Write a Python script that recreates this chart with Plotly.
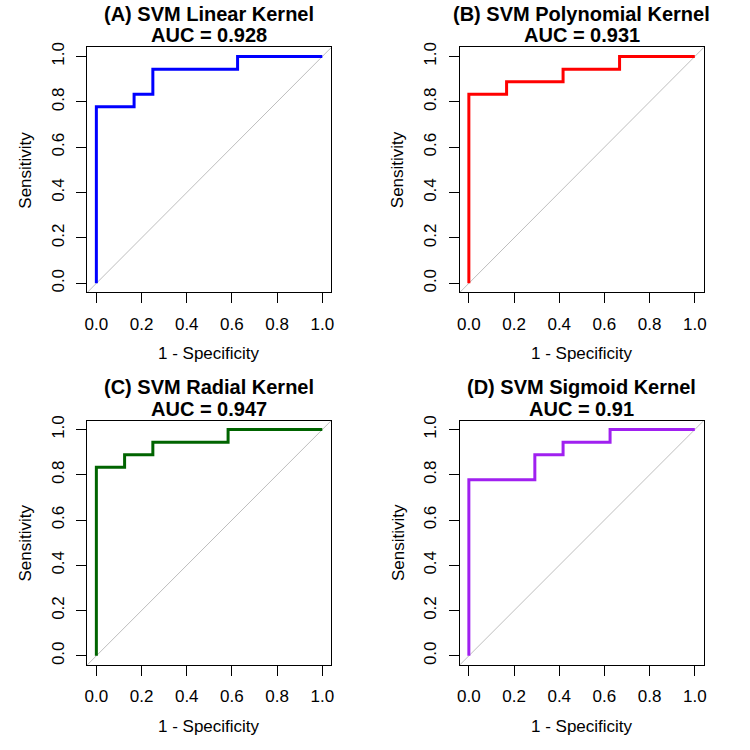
import plotly.graph_objects as go

# ROC vertices (step curves, drawn with horizontal-then-vertical shape)
titles = ["(A) SVM Linear Kernel", "(B) SVM Polynomial Kernel",
          "(C) SVM Radial Kernel", "(D) SVM Sigmoid Kernel"]
aucs = ["0.928", "0.931", "0.947", "0.91"]
colors = ["#0000FF", "#FF0000", "#006400", "#A020F0"]

fpr_linear = [0, 0, 0.167, 0.25, 0.625, 1]
tpr_linear = [0, 0.778, 0.833, 0.944, 1, 1]
fpr_poly = [0, 0, 0.167, 0.417, 0.667, 1]
tpr_poly = [0, 0.833, 0.889, 0.944, 1, 1]
fpr_radial = [0, 0, 0.125, 0.25, 0.583, 1]
tpr_radial = [0, 0.833, 0.889, 0.944, 1, 1]
fpr_sigmoid = [0, 0, 0.292, 0.417, 0.625, 1]
tpr_sigmoid = [0, 0.778, 0.889, 0.944, 1, 1]

tick_vals = [0, 0.2, 0.4, 0.6, 0.8, 1.0]
tick_text = ["0.0", "0.2", "0.4", "0.6", "0.8", "1.0"]

series = [(fpr_linear, tpr_linear), (fpr_poly, tpr_poly),
          (fpr_radial, tpr_radial), (fpr_sigmoid, tpr_sigmoid)]

W = H = 750
xdoms = [(85, 331), (460.5, 706.5)]
ydoms = [(42.7, 289.3), (418.3, 664.3)]

FONT = "Liberation Sans, Arial, sans-serif"
fig = go.Figure()
annotations = []
shapes = []
for i, (fx, ty) in enumerate(series):
    r, c = divmod(i, 2)
    xd = xdoms[c]
    yd = ydoms[r]
    suffix = "" if i == 0 else str(i + 1)
    xa = "x" + suffix
    ya = "y" + suffix
    fig.add_trace(go.Scatter(x=fx, y=ty, mode="lines", line_shape="hv",
                             line=dict(color=colors[i], width=3),
                             xaxis=xa, yaxis=ya, showlegend=False,
                             hoverinfo="skip"))
    axcommon = dict(range=[-0.04, 1.04], tickvals=tick_vals, ticktext=tick_text,
                    showgrid=False, zeroline=False, showline=True, mirror=True,
                    linecolor="black", linewidth=1, ticks="outside", ticklen=10,
                    tickcolor="black", tickwidth=1, ticklabelstandoff=6,
                    tickfont=dict(family=FONT, size=17, color="black"))
    fig.update_layout(**{
        ("xaxis" + suffix): dict(domain=[xd[0] / W, xd[1] / W], anchor=ya, **axcommon),
        ("yaxis" + suffix): dict(domain=[1 - yd[1] / H, 1 - yd[0] / H], anchor=xa,
                                 tickangle=-90, **axcommon),
    })
    shapes.append(dict(type="line", xref=xa + " domain", yref=ya + " domain",
                       x0=0, y0=0, x1=1, y1=1,
                       line=dict(color="#BEBEBE", width=1), layer="below"))
    cx = (xd[0] + xd[1]) / 2 / W
    annotations.append(dict(text="<b>" + titles[i] + "</b>", x=cx, y=1 - (yd[0] - 34) / H,
                            xref="paper", yref="paper", showarrow=False,
                            xanchor="center", yanchor="middle",
                            font=dict(family=FONT, size=20, color="black")))
    annotations.append(dict(text="<b>AUC = " + aucs[i] + "</b>", x=cx, y=1 - (yd[0] - 12) / H,
                            xref="paper", yref="paper", showarrow=False,
                            xanchor="center", yanchor="middle",
                            font=dict(family=FONT, size=20, color="black")))
    annotations.append(dict(text="1 - Specificity", x=cx, y=1 - (yd[1] + 62) / H,
                            xref="paper", yref="paper", showarrow=False,
                            xanchor="center", yanchor="middle",
                            font=dict(family=FONT, size=17, color="black")))
    annotations.append(dict(text="Sensitivity", x=(xd[0] - 62) / W,
                            y=1 - (yd[0] + yd[1]) / 2 / H,
                            xref="paper", yref="paper", showarrow=False, textangle=-90,
                            xanchor="center", yanchor="middle",
                            font=dict(family=FONT, size=17, color="black")))

fig.update_layout(width=W, height=H, margin=dict(l=0, r=0, t=0, b=0),
                  paper_bgcolor="white", plot_bgcolor="white",
                  annotations=annotations, shapes=shapes)
fig.write_html("out.html")
